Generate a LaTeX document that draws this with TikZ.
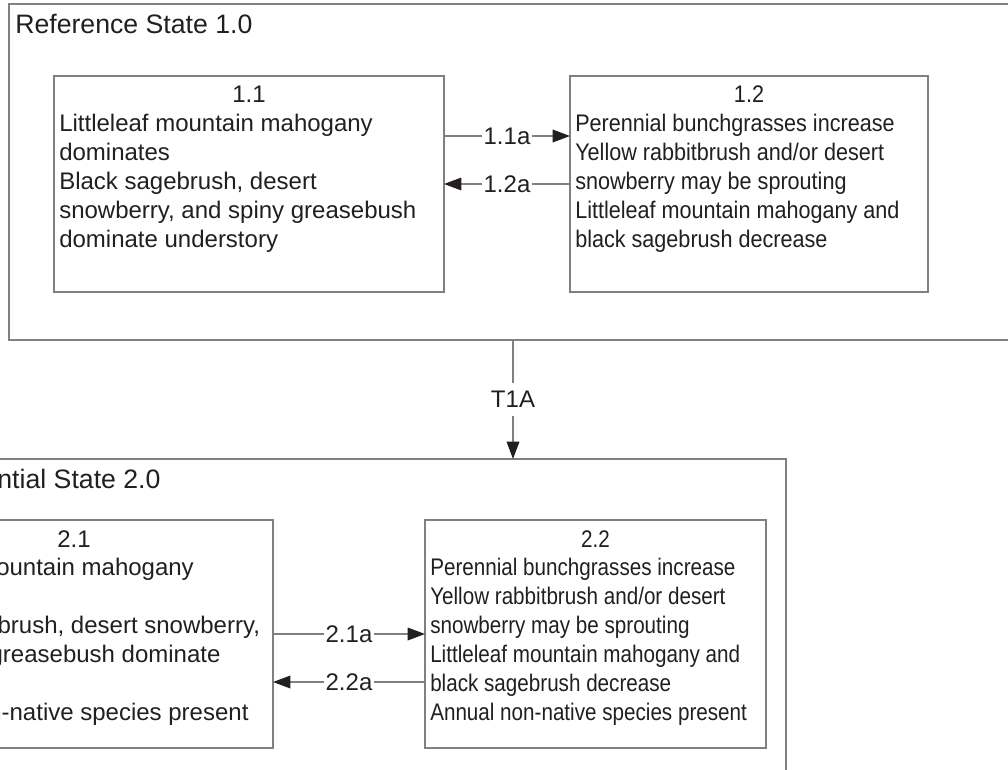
\documentclass[tikz,border=0pt]{standalone}
\usepackage{fontspec}
\usepackage{graphicx}
\setmainfont{Liberation Sans}
\usetikzlibrary{arrows.meta,positioning}
\definecolor{linegray}{HTML}{808080}
\definecolor{ink}{HTML}{231F20}

\begin{document}
\begin{tikzpicture}[x=0.75pt,y=-0.75pt,>={Triangle[length=13pt,width=9.5pt,color=ink]},
  state box/.style={rectangle,draw=linegray,line width=1.2pt,inner sep=0pt,outer sep=0pt},
  comm box/.style={rectangle,draw=linegray,line width=1.2pt,inner sep=0pt,outer sep=0pt,minimum height=#1},
  state title/.style={anchor=base west,inner sep=0pt,text=ink,font=\fontsize{20pt}{24pt}\selectfont},
  comm num/.style={anchor=base,inner sep=0pt,text=ink,font=\fontsize{18pt}{21.75pt}\selectfont},
  comm text/.style={anchor=north west,inner sep=0pt,text=ink,font=\fontsize{18pt}{21.75pt}\selectfont},
  conn/.style={->,draw=linegray,line width=0.9pt},
  conn label/.style={fill=white,text=ink,inner xsep=1pt,inner ysep=2pt,font=\fontsize{18pt}{21.75pt}\selectfont}]

            \useasboundingbox (0,0) rectangle (1008,769);
            \fill[white] (0,0) rectangle (1008,769);
            \clip (0,0) rectangle (1008,769);

            \node[state box, minimum width=756pt, minimum height=252pt] (S1) at (513,172) {};
            \node[state title] (S1t) at ([xshift=4.5pt,yshift=-21.75pt]S1.north west) {Reference State 1.0};

            \node[comm box=162pt, minimum width=292.5pt] (c11) at (249,184) {};
            \node[comm box=162pt, minimum width=268.5pt, right=94.5pt of c11] (c12) {};

            \node[comm num] (n11) at ([yshift=-19.5pt]c11.north) {1.1};
            \node[comm text] (t11) at ([xshift=3.75pt,yshift=-26.4pt]c11.north west)
                {\begin{tabular}{@{}l@{}}Littleleaf mountain mahogany\\dominates\\Black sagebrush, desert\\snowberry, and spiny greasebush\\dominate understory\end{tabular}};
            \node[comm num] (n12) at ([yshift=-19.5pt]c12.north) {\scalebox{0.9}[1]{1.2}};
            \node[comm text] (t12) at ([xshift=3.75pt,yshift=-26.4pt]c12.north west)
                {\scalebox{0.9}[1]{\begin{tabular}{@{}l@{}}Perennial bunchgrasses increase\\Yellow rabbitbrush and/or desert\\snowberry may be sprouting\\Littleleaf mountain mahogany and\\black sagebrush decrease\end{tabular}}};

            \node[state box, minimum width=709.5pt, minimum height=330.75pt] (S2) at (313,679.5) {};
            \node[state title] (S2t) at ([xshift=4.5pt,yshift=-21.75pt]S2.north west) {Current Potential State 2.0};

            \node[comm box=171pt, minimum width=298.5pt] (c21) at (74,634) {};
            \node[comm box=171pt, minimum width=255.75pt, right=114pt of c21] (c22) {};

            \node[comm num] (n21) at ([yshift=-20.25pt]c21.north) {2.1};
            \node[comm text] (t21) at ([xshift=3.75pt,yshift=-26pt]c21.north west)
                {\begin{tabular}{@{}l@{}}Littleleaf mountain mahogany\\dominates\\Black sagebrush, desert snowberry,\\and spiny greasebush dominate\\understory\\Annual non-native species present\end{tabular}};
            \node[comm num] (n22) at ([yshift=-20.25pt]c22.north) {\scalebox{0.86}[1]{2.2}};
            \node[comm text] (t22) at ([xshift=3.75pt,yshift=-26pt]c22.north west)
                {\scalebox{0.86}[1]{\begin{tabular}{@{}l@{}}Perennial bunchgrasses increase\\Yellow rabbitbrush and/or desert\\snowberry may be sprouting\\Littleleaf mountain mahogany and\\black sagebrush decrease\\Annual non-native species present\end{tabular}}};

            \path
                ([yshift=36pt]c11.east) edge[conn] node[conn label]{1.1a} ([yshift=36pt]c12.west)
                (c12.west) edge[conn] node[conn label]{1.2a} (c11.east)

                (S1.south) edge[conn] node[conn label, inner ysep=6pt]{T1A} (S1.south |- S2.north)

                (c21.east) edge[conn] node[conn label]{2.1a} (c22.west)
                ([yshift=-36pt]c22.west) edge[conn] node[conn label]{2.2a} ([yshift=-36pt]c21.east)
                ;
        \end{tikzpicture}
\end{document}
